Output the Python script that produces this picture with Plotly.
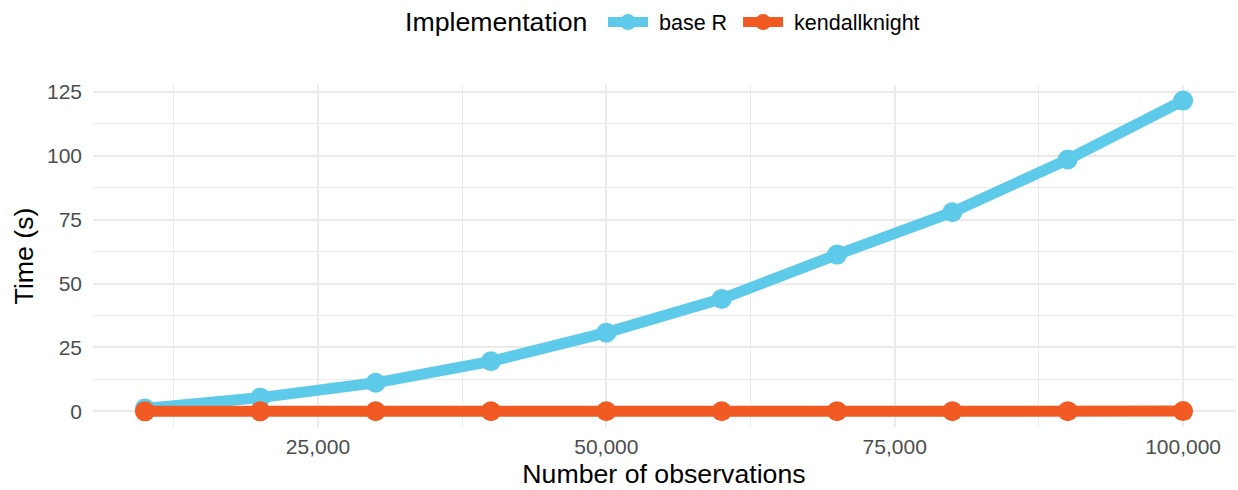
import plotly.graph_objects as go

observations = [10000, 20000, 30000, 40000, 50000, 60000, 70000, 80000, 90000, 100000]
base_r = [1.2, 5.4, 11.2, 19.6, 30.8, 44.0, 61.3, 77.9, 98.5, 121.5]
kendallknight = [0.05, 0.05, 0.06, 0.07, 0.08, 0.09, 0.1, 0.11, 0.12, 0.13]
x_ticks = [25000, 50000, 75000, 100000]
y_ticks = [0, 25, 50, 75, 100, 125]

blue = "#5DCAEA"
orange = "#F15A22"

fig = go.Figure()
fig.add_trace(go.Scatter(x=observations, y=base_r, mode="lines+markers", name="&nbsp;base R&nbsp;",
                         line=dict(color=blue, width=11), marker=dict(color=blue, size=20)))
fig.add_trace(go.Scatter(x=observations, y=kendallknight, mode="lines+markers", name="&nbsp;kendallknight",
                         line=dict(color=orange, width=11), marker=dict(color=orange, size=20)))

grid = "#EBEBEB"
fig.update_layout(
    width=1238, height=490,
    margin=dict(l=93, r=3, t=85, b=63, autoexpand=False),
    paper_bgcolor="white", plot_bgcolor="white",
    font=dict(family="Liberation Sans, Arial, sans-serif", color="#000000"),
    legend=dict(orientation="h", x=0.4466, xanchor="left", y=1.184, yanchor="middle",
                font=dict(size=21.5, color="#000000"), itemwidth=40),
    annotations=[dict(text="Implementation", xref="paper", yref="paper", x=0.2715, y=1.184,
                      xanchor="left", yanchor="middle", showarrow=False,
                      font=dict(size=26.7, color="#000000"))],
    xaxis=dict(range=[5500, 104500], tickvals=x_ticks, tickformat=",d", automargin=False,
               showgrid=True, gridcolor=grid, gridwidth=1.6, zeroline=False, showline=False,
               tickfont=dict(size=21, color="#4D4D4D"), ticks="",
               ticklabelstandoff=5,
               title=dict(text="Number of observations", font=dict(size=26.7, color="#000000"), standoff=7),
               minor=dict(tickvals=[12500, 37500, 62500, 87500], showgrid=True, gridcolor=grid, gridwidth=0.8)),
    yaxis=dict(range=[-6.08, 127.6], tickvals=y_ticks, automargin=False,
               showgrid=True, gridcolor=grid, gridwidth=1.6, zeroline=False, showline=False,
               tickfont=dict(size=21, color="#4D4D4D"), ticks="",
               ticklabelstandoff=10,
               title=dict(text="Time (s)", font=dict(size=26.7, color="#000000"), standoff=5),
               minor=dict(tickvals=[12.5, 37.5, 62.5, 87.5, 112.5], showgrid=True, gridcolor=grid, gridwidth=0.8)),
)

fig.write_html("out.html", config={"displayModeBar": False},
               post_script="document.body.style.margin='0';document.body.style.overflow='hidden';")
